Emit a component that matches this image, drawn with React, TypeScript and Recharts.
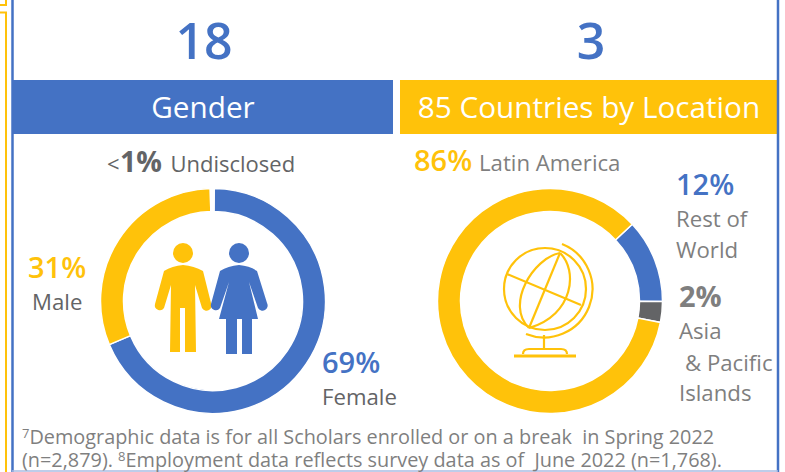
import React from "react";
import { PieChart, Pie, Cell } from "recharts";

const genderNames = ["Female", "Male", "Undisclosed"];
const genderValues = [68.5, 30.95, 0.55];
const genderColors = ["#4472C4", "#FFC20A", "#FFFFFF"];
const locationNames = ["Rest of World", "Asia & Pacific Islands", "Latin America"];
const locationValues = [12, 3, 85];
const locationColors = ["#4472C4", "#636466", "#FFC20A"];

const genderData = genderNames.map((name, i) => ({ name, value: genderValues[i] }));
const locationData = locationNames.map((name, i) => ({ name, value: locationValues[i] }));

const BLUE = "#4472C4";
const YELLOW = "#FFC20A";
const GRAY = "#7F7F7F";
const DARK = "#636466";
const FONT = "'Open Sans', sans-serif";

type TProps = { x: number; y: number; size: number; color: string; weight?: number; anchor?: string; children: React.ReactNode };
const T = ({ x, y, size, color, weight = 400, anchor = "start", children }: TProps) => (
  <text x={x} y={y} fontSize={size} fill={color} fontWeight={weight} textAnchor={anchor} fontFamily={FONT}>
    {children}
  </text>
);

export default function App() {
  return (
    <div style={{ position: "absolute", left: 0, top: 0, width: 785, height: 472, background: "#fff", overflow: "hidden" }}>
      <svg width={785} height={472} style={{ position: "absolute", left: 0, top: 0 }}>
        <rect x={13} y={80} width={380} height={54} fill={BLUE} />
        <rect x={400} y={80} width={378} height={54} fill={YELLOW} />
      </svg>
      <div style={{ position: "absolute", left: 0, top: 0 }}>
        <PieChart width={785} height={472} margin={{ top: 0, right: 0, bottom: 0, left: 0 }}>
          <Pie data={genderData} dataKey="value" cx={213} cy={301} innerRadius={89.5} outerRadius={112.5} startAngle={89.4} endAngle={-270.6} stroke="#fff" strokeWidth={1.5} isAnimationActive={false}>
            {genderData.map((d, i) => <Cell key={d.name} fill={genderColors[i]} />)}
          </Pie>
          <Pie data={locationData} dataKey="value" cx={550} cy={301} innerRadius={89.5} outerRadius={112.5} startAngle={43} endAngle={-317} stroke="#fff" strokeWidth={1.5} isAnimationActive={false}>
            {locationData.map((d, i) => <Cell key={d.name} fill={locationColors[i]} />)}
          </Pie>
        </PieChart>
      </div>
      <svg width={785} height={472} style={{ position: "absolute", left: 0, top: 0 }}>
        {/* frame */}
        <path d="M0 5H6V0M0 12.5H6V472" fill="none" stroke={YELLOW} strokeWidth={2} />
        <path d="M12.5 0V472" stroke={BLUE} strokeWidth={2.5} fill="none" />
        <path d="M778 0V472" stroke={BLUE} strokeWidth={2.5} fill="none" />
        <path d="M12 471H778" stroke="#A9BCE3" strokeWidth={1.5} fill="none" />

        <T x={204} y={59} size={50} color={BLUE} weight={600} anchor="middle">18</T>
        <T x={591} y={59} size={50} color={BLUE} weight={600} anchor="middle">3</T>
        <T x={203} y={118} size={29.7} color="#fff" anchor="middle">Gender</T>
        <T x={589} y={118} size={29.7} color="#fff" anchor="middle">85 Countries by Location</T>

        <T x={107} y={172} size={22} color={DARK}>&lt;</T>
        <T x={120} y={172} size={28.5} color={DARK} weight={700}>1%</T>
        <T x={170.5} y={172} size={22} color={DARK}>Undisclosed</T>

        <T x={414} y={171} size={29} color={YELLOW} weight={600}>86%</T>
        <T x={479} y={171} size={22.2} color={GRAY}>Latin America</T>

        <T x={28} y={278} size={29} color={YELLOW} weight={600}>31%</T>
        <T x={32} y={310} size={22.2} color={DARK}>Male</T>
        <T x={322} y={373} size={29} color={BLUE} weight={600}>69%</T>
        <T x={322} y={405} size={22.2} color={DARK}>Female</T>

        <T x={676} y={195} size={29} color={BLUE} weight={600}>12%</T>
        <T x={676} y={227} size={22.2} color={GRAY}>Rest of</T>
        <T x={676} y={258} size={22.2} color={GRAY}>World</T>
        <T x={679} y={307} size={29} color={GRAY} weight={700}>2%</T>
        <T x={679} y={339} size={22.2} color={GRAY}>Asia</T>
        <T x={685} y={371} size={22.2} color={GRAY}>&amp; Pacific</T>
        <T x={679} y={401} size={22.2} color={GRAY}>Islands</T>

        <text x={22} y={444} fontSize={19.85} fill={GRAY} fontFamily={FONT}>
          <tspan fontSize={13} dy={-6}>7</tspan>
          <tspan dy={6} xmlSpace="preserve">Demographic data is for all Scholars enrolled or on a break  in Spring 2022</tspan>
        </text>
        <text x={22} y={467} fontSize={19.85} fill={GRAY} fontFamily={FONT}>
          <tspan>(n=2,879). </tspan>
          <tspan fontSize={13} dy={-6}>8</tspan>
          <tspan dy={6} xmlSpace="preserve">Employment data reflects survey data as of  June 2022 (n=1,768).</tspan>
        </text>

        {/* man */}
        <g fill={YELLOW}>
          <circle cx={183} cy={253} r={10} />
          <path d="M164 271 Q172 266 183 265 Q194 266 203 271 L211 303 A5 5 0 0 1 202 308 L195 285 L196 352 H185 V308 H180 V352 H170 L171 285 L164 308 A5 5 0 0 1 155 304 Z" />
        </g>
        {/* woman */}
        <g fill={BLUE}>
          <circle cx={239} cy={253} r={10} />
          <path d="M220 271 Q228 266 239 265 Q250 266 257 271 L267 303 A5 5 0 0 1 258 308 L249 282 L258 319 H252 V354 H242 V319 H237 V354 H226 V319 H219 L229 282 L220 308 A5 5 0 0 1 211 304 Z" />
        </g>
        {/* globe */}
        <g fill="none" stroke={YELLOW} strokeWidth={2.2}>
          <circle cx={545} cy={289} r={41} />
          <path d="M562 244 A46 46 0 0 1 526 334" />
          <path d="M560 253 C533 258 505 305 529 328" />
          <path d="M560 253 C578 270 574 315 529 328" />
          <path d="M560 253 L529 328" />
          <path d="M507 274 L581 305" />
          <path d="M544 335 V349 M523 354 Q523 349 529 349 H561 Q567 349 567 354" />
          <path d="M514 356 H576" strokeWidth={3} />
        </g>
      </svg>
    </div>
  );
}
